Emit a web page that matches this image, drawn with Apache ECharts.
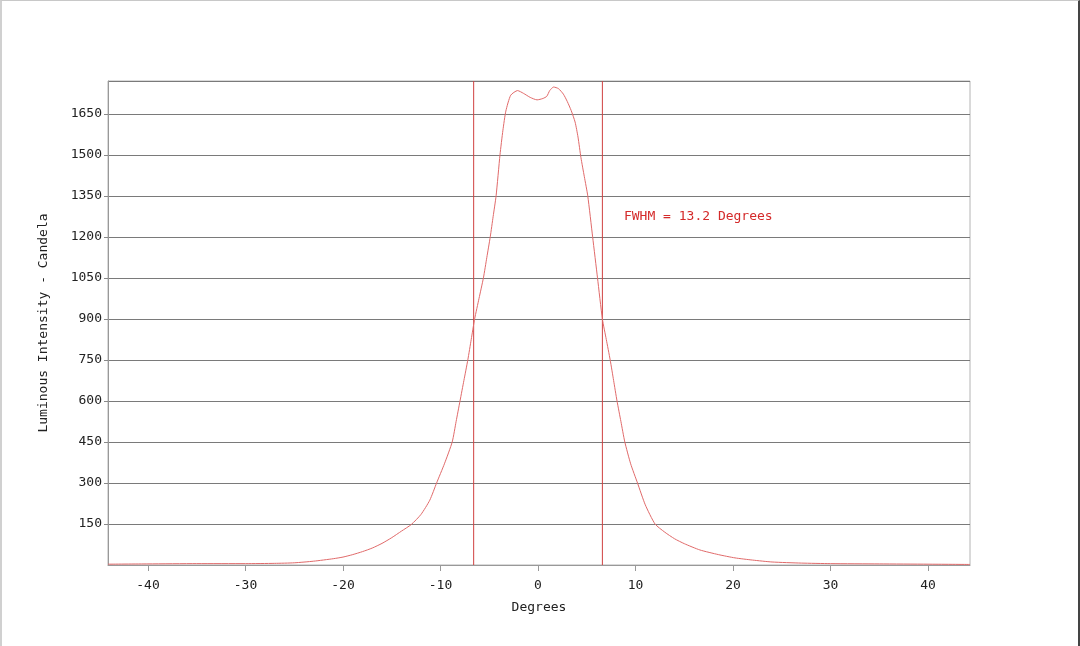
<!DOCTYPE html>
<html>
<head>
<meta charset="utf-8">
<script src="https://cdn.jsdelivr.net/npm/echarts@6/dist/echarts.min.js"></script>
<style>
  html, body { margin: 0; padding: 0; background: #fff; }
  #main {
    width: 1080px; height: 646px; box-sizing: border-box;
    border-left: 2px solid #d0d0d0; border-top: 1px solid #c8c8c8; border-right: 2px solid #444;
  }
</style>
</head>
<body>
<div id="main"></div>
<script>
// angle (degrees) and measured luminous intensity (cd)
var degrees = [-44.1, -40, -35, -30, -27, -25, -23, -21, -20, -19, -18, -17, -16, -15, -14, -13, -12,
  -11.1, -10.4, -9.6, -8.8, -8.4, -8.0, -7.6, -7.2, -6.85, -6.5, -6.05, -5.6, -5.25, -4.9, -4.6, -4.3,
  -3.9, -3.6, -3.3, -2.8, -2.1, -1.5, -0.8, -0.1, 0.5, 0.9, 1.2, 1.6, 2.1, 2.6, 3.0, 3.4, 3.8, 4.1, 4.4,
  4.75, 5.1, 5.6, 6.1, 6.6, 7.0, 7.4, 7.75, 8.1, 8.5, 8.9, 9.5, 10.2, 11.0, 12.0, 13, 14, 15, 16.6,
  18.5, 20.2, 22, 24, 27, 30, 35, 40, 44.3];
var intensity = [3, 4, 5, 5, 6, 8, 14, 23, 29, 38, 49, 62, 79, 100, 124, 148, 185,
  237, 300, 370, 450, 525, 600, 675, 750, 825, 900, 975, 1050, 1125, 1200, 1275, 1350,
  1500, 1590, 1660, 1718, 1735, 1725, 1710, 1701, 1706, 1714, 1735, 1748, 1742, 1722, 1695, 1662, 1620, 1565, 1490,
  1420, 1350, 1200, 1050, 900, 825, 750, 675, 600, 525, 450, 370, 300, 220, 150, 120, 96, 78, 55,
  38, 26, 18, 11, 7, 5, 4, 3, 2];
var xTicks = [-40, -30, -20, -10, 0, 10, 20, 30, 40];
var fwhmEdges = [-6.6, 6.6];
var fwhmText = 'FWHM = 13.2 Degrees';

var chart = echarts.init(document.getElementById('main'));
var font = "'DejaVu Sans Mono', monospace";
var red = '#d04040';
var yMax = 1770;

var points = degrees.map(function (d, i) { return [d, intensity[i]]; });

// the two vertical FWHM boundary lines
var edgeSeries = fwhmEdges.map(function (x) {
    return {
        type: 'line',
        data: [[x, 0], [x, yMax]],
        showSymbol: false,
        silent: true,
        z: 3,
        lineStyle: { color: red, width: 1 }
    };
});

option = {
    animation: false,
    backgroundColor: '#fff',
    grid: {
        left: 106, right: 108, top: 80, bottom: 81,
        show: true, borderColor: '#b4b4b4', borderWidth: 1
    },
    xAxis: {
        type: 'value',
        min: -44.1,
        max: 44.3,
        name: 'Degrees',
        nameLocation: 'middle',
        nameGap: 36,
        nameTextStyle: { fontFamily: font, fontSize: 13, color: '#222' },
        axisLine: { show: true, onZero: false, lineStyle: { color: '#999' } },
        axisTick: { show: true, customValues: xTicks, length: 6, lineStyle: { color: '#999' } },
        axisLabel: { customValues: xTicks, fontFamily: font, fontSize: 13, color: '#222', margin: 14 },
        splitLine: { show: false }
    },
    yAxis: {
        type: 'value',
        min: 0,
        max: yMax,
        interval: 150,
        name: 'Luminous Intensity - Candela',
        nameLocation: 'middle',
        nameGap: 58,
        nameTextStyle: { fontFamily: font, fontSize: 13, color: '#222' },
        axisLine: { show: true, onZero: false, lineStyle: { color: '#999' } },
        axisTick: { show: true, length: 4, lineStyle: { color: '#888' } },
        axisLabel: {
            showMinLabel: false, showMaxLabel: false,
            formatter: function (v) { return String(v); },
            fontFamily: font, fontSize: 13, color: '#222', margin: 6
        },
        splitLine: { show: true, lineStyle: { color: '#7a7a7a', width: 1 } }
    },
    series: [{
        type: 'line',
        data: points,
        showSymbol: false,
        smooth: 0.2,
        z: 4,
        lineStyle: { color: '#e06a6a', width: 1 },
        markPoint: {
            symbol: 'circle',
            symbolSize: 0,
            label: {
                show: true,
                position: 'right',
                formatter: fwhmText,
                fontFamily: font,
                fontSize: 13,
                color: '#d42a2a'
            },
            data: [{ coord: [8.3, 1275] }]
        }
    }].concat(edgeSeries)
};

chart.setOption(option);
</script>
</body>
</html>
